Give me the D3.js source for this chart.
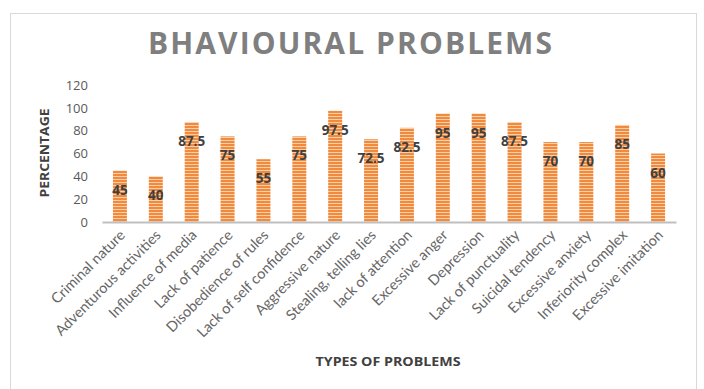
<!DOCTYPE html>
<html>
<head>
<meta charset="utf-8">
<script src="https://cdn.jsdelivr.net/npm/d3@7"></script>
<style>
  html, body { margin: 0; padding: 0; background: #fff; }
  svg { display: block; }
</style>
</head>
<body>
<svg id="chart" width="704" height="389"></svg>
<script>
// Categories and percentages for each behavioural problem
const categories = [
  "Criminal nature", "Adventurous activities", "Influence of media", "Lack of patience",
  "Disobedience of rules", "Lack of self confidence", "Aggressive nature", "Stealing, telling lies",
  "lack of attention", "Excessive anger", "Depression", "Lack of punctuality",
  "Suicidal tendency", "Excessive anxiety", "Inferiority complex", "Excessive imitation"
];
const values = [45, 40, 87.5, 75, 55, 75, 97.5, 72.5, 82.5, 95, 95, 87.5, 70, 70, 85, 60];
const yTicks = [0, 20, 40, 60, 80, 100, 120];

const svg = d3.select("#chart");

// outer chart frame
svg.append("rect")
  .attr("x", 10.5).attr("y", 13.5)
  .attr("width", 686).attr("height", 390)
  .attr("fill", "#fff").attr("stroke", "#d9d9d9").attr("stroke-width", 1);

// striped fill for the bars
const defs = svg.append("defs");
const pat = defs.append("pattern")
  .attr("id", "stripes").attr("patternUnits", "userSpaceOnUse")
  .attr("width", 6).attr("height", 3);
pat.append("rect").attr("width", 6).attr("height", 3).attr("fill", "#fbcfa8");
pat.append("rect").attr("width", 6).attr("height", 2).attr("fill", "#f08a3e");

const x = d3.scaleBand().domain(categories).range([102, 676]).paddingInner(0.61).paddingOuter(0.305);
const y = d3.scaleLinear().domain([0, 120]).range([222, 85]);

// title
svg.append("text")
  .attr("x", 350).attr("y", 54)
  .attr("text-anchor", "middle")
  .attr("font-family", "'Open Sans', sans-serif")
  .attr("font-weight", "bold")
  .attr("font-size", 30)
  .attr("fill", "#7f7f7f")
  .attr("textLength", 404).attr("lengthAdjust", "spacing")
  .text("BHAVIOURAL PROBLEMS");

// y axis (labels only)
const yAxis = svg.append("g")
  .attr("transform", "translate(88,0)")
  .call(d3.axisLeft(y).tickValues(yTicks).tickSize(0).tickPadding(0));
yAxis.select(".domain").remove();
yAxis.selectAll("text")
  .attr("font-family", "'Open Sans', sans-serif")
  .attr("font-size", 13)
  .attr("fill", "#595959");

// bars
svg.append("g").selectAll("rect")
  .data(values)
  .join("rect")
  .attr("x", (d, i) => x(categories[i]))
  .attr("width", x.bandwidth())
  .attr("y", d => y(d))
  .attr("height", d => y(0) - y(d))
  .attr("fill", "url(#stripes)");

// x axis baseline and category labels
const xAxis = svg.append("g")
  .attr("transform", `translate(0,${y(0)})`)
  .call(d3.axisBottom(x).tickSize(0).tickPadding(0));
xAxis.select(".domain").attr("stroke", "#bfbfbf").attr("stroke-width", 2);
xAxis.selectAll(".tick text")
  .attr("font-family", "Lato, sans-serif")
  .attr("font-size", 14.5)
  .attr("fill", "#666666")
  .attr("text-anchor", "end")
  .attr("dy", null)
  .attr("y", 0)
  .attr("transform", "translate(6,14) rotate(-45)");

// value labels
svg.append("g").selectAll("text")
  .data(values)
  .join("text")
  .attr("x", (d, i) => x(categories[i]) + x.bandwidth() / 2)
  .attr("y", d => y(d) + 24)
  .attr("text-anchor", "middle")
  .attr("font-family", "'Open Sans', sans-serif")
  .attr("font-weight", "bold")
  .attr("font-size", 13.5)
  .attr("fill", "#404040")
  .text(d => d);

// axis titles
svg.append("text")
  .attr("transform", "translate(49,153) rotate(-90)")
  .attr("text-anchor", "middle")
  .attr("font-family", "'Open Sans', sans-serif")
  .attr("font-weight", "bold")
  .attr("font-size", 12)
  .attr("fill", "#404040")
  .attr("textLength", 89).attr("lengthAdjust", "spacingAndGlyphs")
  .text("PERCENTAGE");

svg.append("text")
  .attr("x", 388).attr("y", 366)
  .attr("text-anchor", "middle")
  .attr("font-family", "'Open Sans', sans-serif")
  .attr("font-weight", "bold")
  .attr("font-size", 12)
  .attr("fill", "#404040")
  .attr("textLength", 145).attr("lengthAdjust", "spacingAndGlyphs")
  .text("TYPES OF PROBLEMS");
</script>
</body>
</html>
